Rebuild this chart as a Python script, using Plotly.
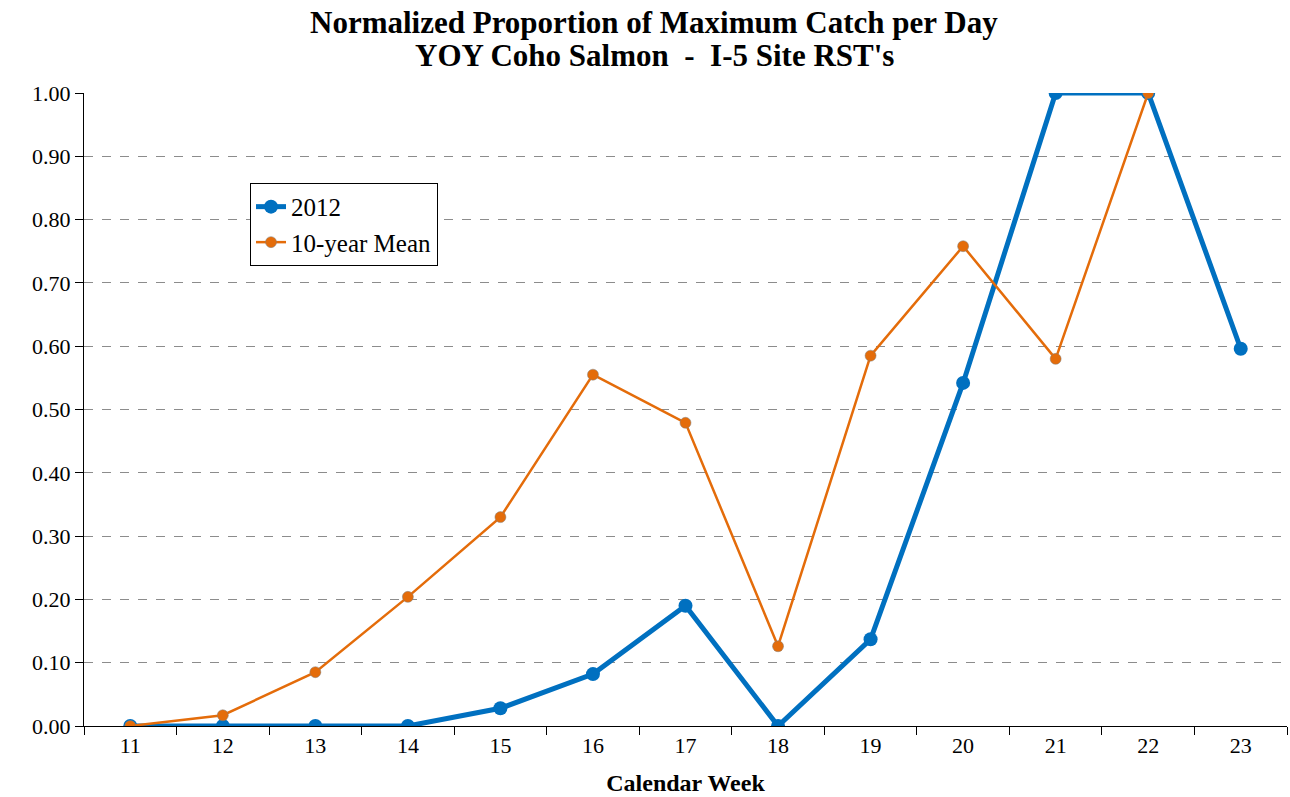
import plotly.graph_objects as go

weeks = ["11", "12", "13", "14", "15", "16", "17", "18", "19", "20", "21", "22", "23"]
y2012 = [0.0, 0.0, 0.0, 0.0, 0.028, 0.082, 0.19, 0.0, 0.137, 0.542, 1.0, 1.0, 0.596]
mean10 = [0.0, 0.017, 0.085, 0.204, 0.33, 0.555, 0.479, 0.126, 0.585, 0.758, 0.58, 1.0, None]
yticks = [0.0, 0.1, 0.2, 0.3, 0.4, 0.5, 0.6, 0.7, 0.8, 0.9, 1.0]
title_lines = ["Normalized Proportion of Maximum Catch per Day", "YOY Coho Salmon  -  I-5 Site RST's"]

font_family = "Liberation Serif, Times New Roman, serif"

fig = go.Figure()
fig.add_trace(go.Scatter(
    x=weeks, y=y2012, name="2012", mode="lines+markers",
    line=dict(color="#0070C0", width=5),
    marker=dict(color="#0070C0", size=14),
))
fig.add_trace(go.Scatter(
    x=weeks, y=mean10, name="10-year Mean", mode="lines+markers",
    line=dict(color="#E46C0A", width=2.5),
    marker=dict(color="#E46C0A", size=11, line=dict(color="#7f7f7f", width=0.5)),
))

for txt, yy in zip(title_lines, [1.111, 1.059]):
    fig.add_annotation(
        text="<b>" + txt + "</b>", xref="paper", yref="paper",
        x=0.474, y=yy, xanchor="center", yanchor="middle", showarrow=False,
        font=dict(family=font_family, size=31, color="black"),
    )

fig.update_layout(
    width=1290, height=797,
    paper_bgcolor="white", plot_bgcolor="white",
    margin=dict(l=84, r=3, t=93, b=71, autoexpand=False),
    font=dict(family=font_family, size=21, color="black"),
    legend=dict(
        x=0.138, y=0.858, xanchor="left", yanchor="top",
        bgcolor="white", bordercolor="black", borderwidth=1,
        font=dict(family=font_family, size=25),
        tracegroupgap=0, itemwidth=30,
    ),
    showlegend=True,
)
fig.update_xaxes(
    type="category", tickson="boundaries",
    ticks="outside", ticklen=8, tickcolor="black",
    showline=True, linecolor="black", linewidth=1,
    showgrid=False, zeroline=False,
    range=[-0.5, 12.5],
    title=dict(text="<b>Calendar Week</b>", font=dict(family=font_family, size=24), standoff=16),
    tickfont=dict(family=font_family, size=22),
)
fig.update_yaxes(
    range=[0, 1.0], tickvals=yticks, tickformat=".2f",
    ticks="outside", ticklen=8, tickcolor="black",
    showline=True, linecolor="black", linewidth=1,
    showgrid=True, gridcolor="#8c8c8c", griddash="dash", gridwidth=1,
    zeroline=False,
    tickfont=dict(family=font_family, size=22),
)

fig.write_html("out.html", config={"displayModeBar": False},
               post_script="document.body.style.margin='0';document.body.style.overflow='hidden';")
